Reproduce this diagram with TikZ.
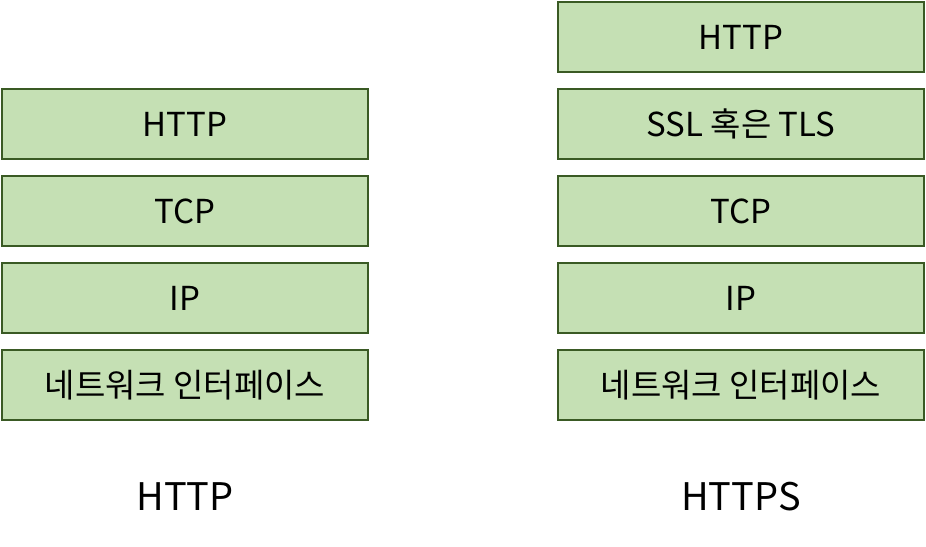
\documentclass[tikz,border=0pt]{standalone}
\usepackage{fontspec}
\setmainfont{Noto Sans CJK KR}
\usepackage{tikz}
\definecolor{layerfill}{HTML}{C5E0B4}
\definecolor{layerline}{HTML}{3A5A24}

\begin{document}
\begin{tikzpicture}[x=1pt, y=-1pt,
		layer_style/.style={rectangle,draw=layerline,line width=1.5pt,fill=layerfill,minimum width=366pt,minimum height=70pt,inner sep=0pt,font=\fontsize{33}{38}\selectfont},
		title_style/.style={font=\fontsize{38}{44}\selectfont}]
		\useasboundingbox (0,0) rectangle (926,546);
		% HTTP stack
		\node[layer_style] (lhttp) at (185,124) {HTTP};
		\node[layer_style] (ltcp) at (185,211) {TCP};
		\node[layer_style] (lip) at (185,298) {IP};
		\node[layer_style] (lnet) at (185,385) {네트워크 인터페이스};
		\node[title_style] (ltitle) at (185,497) {HTTP};
		% HTTPS stack
		\node[layer_style] (rhttp) at (741,37) {HTTP};
		\node[layer_style] (rssl) at (741,124) {SSL 혹은 TLS};
		\node[layer_style] (rtcp) at (741,211) {TCP};
		\node[layer_style] (rip) at (741,298) {IP};
		\node[layer_style] (rnet) at (741,385) {네트워크 인터페이스};
		\node[title_style] (rtitle) at (741,497) {HTTPS};
\end{tikzpicture}
\end{document}
